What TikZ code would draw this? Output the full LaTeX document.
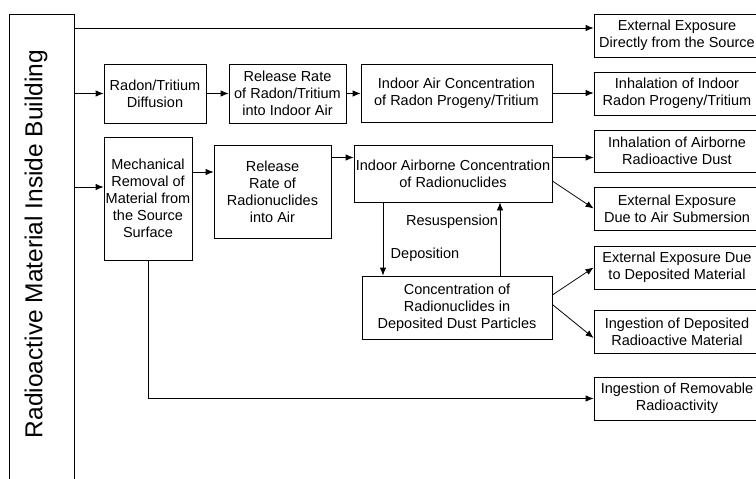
\documentclass[tikz,border=0pt]{standalone}
\usepackage{fontspec}
\setmainfont{Liberation Sans}
\usetikzlibrary{arrows.meta}
\begin{document}
\begin{tikzpicture}
    [
    x=1pt,y=-1pt,
    line width=0.8pt,
    box/.style={draw,rectangle,align=center,inner sep=0pt,font=\fontsize{14.5}{17}\selectfont},
    outbox/.style={box,minimum width=166pt,minimum height=43pt},
    flow/.style={-{Latex[length=8pt,width=6.5pt]}},
    tag/.style={font=\fontsize{14.5}{17}\selectfont}
    ]
    \useasboundingbox (0,0) rectangle (756,479);
    % source column
    \node (src) at (41.5,257) [draw,minimum width=65pt,minimum height=486pt,inner sep=0pt] {};
    \node (srctext) at (36,244) [rotate=90,font=\fontsize{24.5}{29}\selectfont] {Radioactive Material Inside Building};
    % radon / tritium path
    \node (diff) at (155,93.5) [box,minimum width=102pt,minimum height=59pt] {Radon/Tritium\\Diffusion};
    \node (rel1) at (287.5,93.5) [box,minimum width=117pt,minimum height=59pt] {Release Rate\\of Radon/Tritium\\into Indoor Air};
    \node (iac) at (456.5,93) [box,minimum width=191pt,minimum height=58pt] {Indoor Air Concentration\\of Radon Progeny/Tritium};
    % dust path
    \node (mech) at (148,198.5) [box,minimum width=88pt,minimum height=123pt] {Mechanical\\Removal of\\Material from\\the Source\\Surface};
    \node (rel2) at (272.5,191.5) [box,minimum width=117pt,minimum height=93pt] {Release\\Rate of\\Radionuclides\\into Air};
    \node (iab) at (453,173.5) [box,minimum width=198pt,minimum height=57pt] {Indoor Airborne Concentration\\of Radionuclides};
    \node (conc) at (457,307.5) [box,minimum width=190pt,minimum height=63pt] {Concentration of\\Radionuclides in\\Deposited Dust Particles};
    % exposure pathways
    \node (ext) at (677,35.5) [outbox] {External Exposure\\Directly from the Source};
    \node (inh1) at (677,93.5) [outbox] {Inhalation of Indoor\\Radon Progeny/Tritium};
    \node (inh2) at (677,151) [outbox,minimum height=42pt] {Inhalation of Airborne\\Radioactive Dust};
    \node (sub) at (677,208.5) [outbox] {External Exposure\\Due to Air Submersion};
    \node (dep) at (677,267.5) [outbox] {External Exposure Due\\to Deposited Material};
    \node (ingd) at (677,331.5) [outbox] {Ingestion of Deposited\\Radioactive Material};
    \node (rem) at (677,398.5) [outbox] {Ingestion of Removable\\Radioactivity};
    \coordinate (ytop) at (0,28);
    \coordinate (ymech) at (0,187);
    \coordinate (yrel) at (0,172);
    \coordinate (yair) at (0,157.5);
    \coordinate (xdown) at (383,0);
    \coordinate (xup) at (500,0);
    \draw [flow] (src.east |- ytop) to (ext.west |- ytop);
    \draw [flow] (src.east |- diff.west) to (diff.west);
    \draw [flow] (diff.east) to (rel1.west);
    \draw [flow] (rel1.east) to (rel1.east -| iac.west);
    \draw [flow] (iac.east) to (iac.east -| inh1.west);
    \draw [flow] (src.east |- ymech) to (mech.west |- ymech);
    \draw [flow] (mech.east |- yrel) to (rel2.west |- yrel);
    \draw [flow] (rel2.east |- yair) to (iab.west |- yair);
    \draw [flow] (iab.east |- yair) to (inh2.west |- yair);
    \draw [flow] ([yshift=-7.5pt]iab.east) to (sub.west);
    \draw [flow] (iab.south -| xdown) to (conc.north -| xdown);
    \draw [flow] (conc.north -| xup) to (iab.south -| xup);
    \draw [flow] ([yshift=12.5pt]conc.east) to (dep.west);
    \draw [flow] ([yshift=3pt]conc.east) to ([yshift=-6.5pt]ingd.west);
    \draw [flow] (mech.south) |- (rem.west);
    \node (deplabel) at (425,255) [tag] {Deposition};
    \node (reslabel) at (452,222) [tag] {Resuspension};
\end{tikzpicture}
\end{document}
